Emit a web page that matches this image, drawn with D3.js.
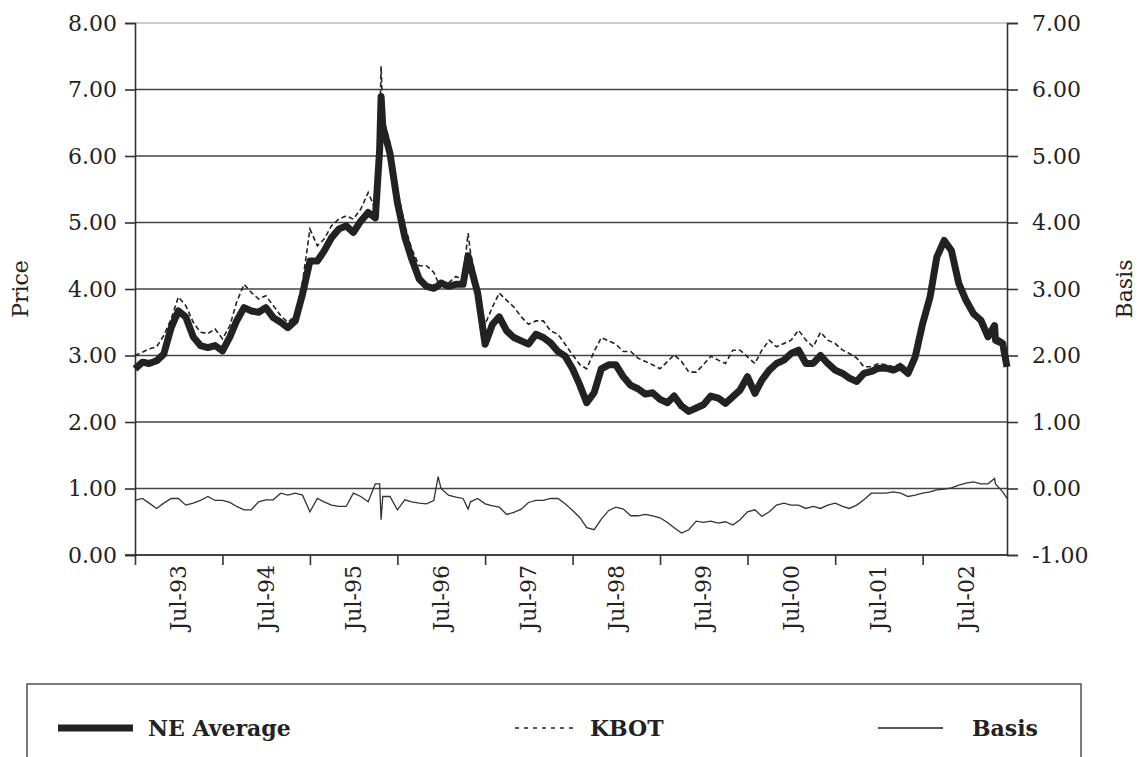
<!DOCTYPE html>
<html>
<head>
<meta charset="utf-8">
<script src="https://cdnjs.cloudflare.com/ajax/libs/d3/7.8.5/d3.min.js"></script>
<style>
    body { margin: 0; background: #fff; }
    svg text { font-family: "DejaVu Serif", "Liberation Serif", serif; fill: #222; }
</style>
</head>
<body>
<div id="chart"></div>
<script>
// ---- data (first of month, plus a few extra points) ----
const dates = [
    '1993-01-01','1993-02-01','1993-03-01','1993-04-01','1993-05-01','1993-06-01',
    '1993-07-01','1993-08-01','1993-09-01','1993-10-01','1993-11-01','1993-12-01',
    '1994-01-01','1994-02-01','1994-03-01','1994-04-01','1994-05-01','1994-06-01',
    '1994-07-01','1994-08-01','1994-09-01','1994-10-01','1994-11-01','1994-12-01',
    '1995-01-01','1995-02-01','1995-03-01','1995-04-01','1995-05-01','1995-06-01',
    '1995-07-01','1995-08-01','1995-09-01','1995-10-01','1995-10-19','1995-10-25',
    '1995-11-01','1995-12-01','1996-01-01','1996-02-01','1996-03-01','1996-04-01',
    '1996-05-01','1996-06-01','1996-06-19','1996-07-01','1996-08-01','1996-09-01',
    '1996-10-01','1996-10-22','1996-11-01','1996-12-01',
    '1997-01-01','1997-02-01','1997-03-01','1997-04-01','1997-05-01','1997-06-01',
    '1997-07-01','1997-08-01','1997-09-01','1997-10-01','1997-11-01','1997-12-01',
    '1998-01-01','1998-02-01','1998-03-01','1998-04-01','1998-05-01','1998-06-01',
    '1998-07-01','1998-08-01','1998-09-01','1998-10-01','1998-11-01','1998-12-01',
    '1999-01-01','1999-02-01','1999-03-01','1999-04-01','1999-05-01','1999-06-01',
    '1999-07-01','1999-08-01','1999-09-01','1999-10-01','1999-11-01','1999-12-01',
    '2000-01-01','2000-02-01','2000-03-01','2000-04-01','2000-05-01','2000-06-01',
    '2000-07-01','2000-08-01','2000-09-01','2000-10-01','2000-11-01','2000-12-01',
    '2001-01-01','2001-02-01','2001-03-01','2001-04-01','2001-05-01','2001-06-01',
    '2001-07-01','2001-08-01','2001-09-01','2001-10-01','2001-11-01','2001-12-01',
    '2002-01-01','2002-02-01','2002-03-01','2002-04-01','2002-05-01','2002-06-01',
    '2002-07-01','2002-08-01','2002-09-01','2002-10-01','2002-10-28','2002-11-01',
    '2002-12-01','2002-12-19'
];

const neAverage = [
    2.80,2.90,2.88,2.92,3.02,3.42, 3.67,3.58,3.28,3.15,3.12,3.15,
    3.07,3.28,3.52,3.72,3.67,3.65, 3.72,3.57,3.50,3.42,3.52,3.92,
    4.42,4.42,4.57,4.77,4.90,4.95, 4.85,5.02,5.15,5.07,6.10,6.89,
    6.45,6.04,5.30,4.78,4.45,4.15, 4.04,4.01,4.05,4.09,4.04,4.07,
    4.07,4.50,4.35,3.94,
    3.17,3.47,3.58,3.37,3.27,3.22, 3.17,3.32,3.27,3.19,3.06,2.99,
    2.80,2.55,2.29,2.44,2.80,2.86, 2.86,2.68,2.55,2.50,2.42,2.44,
    2.34,2.29,2.39,2.24,2.16,2.21, 2.26,2.39,2.36,2.28,2.38,2.48,
    2.68,2.43,2.63,2.78,2.88,2.93, 3.03,3.08,2.88,2.88,3.00,2.88,
    2.78,2.73,2.66,2.61,2.73,2.76, 2.81,2.81,2.78,2.83,2.73,2.98,
    3.48,3.88,4.48,4.73,4.58,4.08, 3.83,3.63,3.53,3.28,3.45,3.23,
    3.18,2.83
];

const kbot = [
    3.00,3.05,3.10,3.13,3.30,3.55, 3.88,3.75,3.50,3.35,3.33,3.40,
    3.25,3.45,3.80,4.07,3.95,3.85, 3.90,3.75,3.60,3.50,3.60,4.10,
    4.90,4.65,4.75,4.95,5.05,5.10, 5.05,5.20,5.45,5.20,6.40,7.35,
    6.60,6.20,5.50,4.95,4.60,4.35, 4.35,4.25,4.10,4.09,4.09,4.19,
    4.14,4.84,4.55,4.04,
    3.47,3.73,3.94,3.83,3.73,3.58, 3.47,3.52,3.52,3.37,3.32,3.17,
    3.01,2.86,2.80,3.06,3.27,3.22, 3.17,3.06,3.06,2.96,2.91,2.86,
    2.80,2.91,3.01,2.91,2.75,2.75, 2.86,2.99,2.93,2.88,3.08,3.08,
    2.98,2.88,3.08,3.23,3.13,3.18, 3.23,3.38,3.23,3.13,3.35,3.23,
    3.18,3.08,3.03,2.96,2.83,2.83, 2.88,2.86,2.83,2.88,2.78,3.00,
    3.50,3.90,4.50,4.76,4.60,4.10, 3.85,3.65,3.55,3.33,3.35,3.30,
    3.23,3.00
];

const basis = [
    -0.18,-0.15,-0.22,-0.30,-0.22,-0.15, -0.15,-0.25,-0.22,-0.18,-0.12,-0.18,
    -0.18,-0.21,-0.27,-0.32,-0.32,-0.20, -0.17,-0.17,-0.07,-0.10,-0.07,-0.10,
    -0.35,-0.15,-0.20,-0.25,-0.27,-0.27, -0.07,-0.12,-0.20,0.07,0.07,-0.47,
    -0.12,-0.12,-0.32,-0.17,-0.20,-0.22, -0.23,-0.18,0.18,0.00,-0.10,-0.13,
    -0.15,-0.31,-0.20,-0.15,
    -0.23,-0.26,-0.28,-0.39,-0.36,-0.31, -0.21,-0.18,-0.18,-0.15,-0.15,-0.23,
    -0.33,-0.44,-0.59,-0.62,-0.46,-0.33, -0.28,-0.31,-0.41,-0.41,-0.39,-0.41,
    -0.44,-0.51,-0.59,-0.67,-0.62,-0.49, -0.51,-0.49,-0.52,-0.50,-0.55,-0.47,
    -0.35,-0.32,-0.42,-0.35,-0.25,-0.22, -0.25,-0.25,-0.30,-0.27,-0.30,-0.25,
    -0.22,-0.27,-0.30,-0.25,-0.17,-0.07, -0.07,-0.07,-0.05,-0.07,-0.12,-0.10,
    -0.07,-0.05,-0.02,-0.01,0.01,0.05, 0.08,0.10,0.07,0.07,0.15,0.07,
    -0.05,-0.15
];

const priceTicks = [0, 1, 2, 3, 4, 5, 6, 7, 8];
const basisTicks = [-1, 0, 1, 2, 3, 4, 5, 6, 7];
const yearTicks = ['1993','1994','1995','1996','1997','1998','1999','2000','2001','2002'];
const monthLabels = ['Jul-93','Jul-94','Jul-95','Jul-96','Jul-97','Jul-98','Jul-99','Jul-00','Jul-01','Jul-02'];

const seriesNames = ['NE Average', 'KBOT', 'Basis'];

class Chart {

    constructor(opts) {
        this.element = opts.element;
        const parse = d3.timeParse('%Y-%m-%d');
        this.data = dates.map((d, i) => ({
            date: parse(d), ne: neAverage[i], kbot: kbot[i], basis: basis[i]
        }));
        this.draw();
    }

    draw() {
        this.width = 1141;
        this.height = 757;
        this.margin = { top: 23, right: 134, bottom: 202, left: 135 };

        this.element.innerHTML = '';
        this.svg = d3.select(this.element).append('svg')
            .attr('width', this.width)
            .attr('height', this.height);

        this.createScales();
        this.addGrid();
        this.addAxes();
        this.addLines();
        this.addLegend();
    }

    createScales() {
        const m = this.margin;
        this.x0 = m.left;
        this.x1 = this.width - m.right;
        this.y0 = this.height - m.bottom;

        this.xScale = d3.scaleTime()
            .domain([new Date(1993, 0, 1), new Date(2002, 11, 19)])
            .range([this.x0, this.x1]);

        this.yScale = d3.scaleLinear()
            .domain([0, 8])
            .range([this.y0, m.top]);

        this.y2Scale = d3.scaleLinear()
            .domain([-1, 7])
            .range([this.y0, m.top]);
    }

    addGrid() {
        // horizontal rules across the plot, top one lighter
        this.svg.append('g')
            .selectAll('line')
            .data(priceTicks)
            .join('line')
            .attr('x1', this.x0)
            .attr('x2', this.x1)
            .attr('y1', d => this.yScale(d))
            .attr('y2', d => this.yScale(d))
            .attr('stroke', d => d === 8 ? '#bdbdbd' : '#444')
            .attr('stroke-width', 1.6);
    }

    addAxes() {
        // plain hyphen for negatives, like the original
        const fmt = d => d3.format('.2f')(d).replace('\u2212', '-');

        const yAxis = d3.axisLeft(this.yScale)
            .tickValues(priceTicks)
            .tickFormat(fmt)
            .tickSize(10)
            .tickPadding(8);

        const y2Axis = d3.axisRight(this.y2Scale)
            .tickValues(basisTicks)
            .tickFormat(fmt)
            .tickSize(11)
            .tickPadding(14);

        const xAxis = d3.axisBottom(this.xScale)
            .tickValues(yearTicks.map(y => new Date(+y, 0, 1)))
            .tickFormat('')
            .tickSize(10);

        const gl = this.svg.append('g')
            .attr('transform', `translate(${this.x0},0)`)
            .call(yAxis);
        const gr = this.svg.append('g')
            .attr('transform', `translate(${this.x1},0)`)
            .call(y2Axis);
        const gx = this.svg.append('g')
            .attr('transform', `translate(0,${this.y0})`)
            .call(xAxis);

        [gl, gr, gx].forEach(g => {
            g.select('.domain').attr('stroke', '#333').attr('stroke-width', 1.6);
            g.selectAll('.tick line').attr('stroke', '#333').attr('stroke-width', 1.6);
            g.selectAll('.tick text')
                .style('font-family', '"DejaVu Serif", serif')
                .style('font-size', '22px')
                .attr('fill', '#222');
        });
        gx.select('.domain').attr('d', `M${this.x0 - 10},0H${this.x1}`);

        // rotated month labels halfway between year ticks
        this.svg.append('g')
            .selectAll('text')
            .data(monthLabels)
            .join('text')
            .attr('transform', (d, i) =>
                `translate(${this.xScale(new Date(1993 + i, 6, 1))},${this.y0 + 10}) rotate(-90)`)
            .attr('text-anchor', 'end')
            .attr('dy', '0.36em')
            .style('font-size', '22px')
            .text(d => d);

        // axis titles
        const midY = (this.yScale(0) + this.yScale(8)) / 2;
        this.svg.append('text')
            .attr('transform', `translate(20,${midY}) rotate(-90)`)
            .attr('text-anchor', 'middle')
            .attr('dy', '0.36em')
            .style('font-size', '22px')
            .text('Price');
        this.svg.append('text')
            .attr('transform', `translate(1124,${midY}) rotate(-90)`)
            .attr('text-anchor', 'middle')
            .attr('dy', '0.36em')
            .style('font-size', '22px')
            .text('Basis');
    }

    addLines() {
        const plot = this.svg.append('g');

        const kbotLine = d3.line()
            .x(d => this.xScale(d.date))
            .y(d => this.yScale(d.kbot));
        const neLine = d3.line()
            .x(d => this.xScale(d.date))
            .y(d => this.yScale(d.ne));
        const basisLine = d3.line()
            .x(d => this.xScale(d.date))
            .y(d => this.y2Scale(d.basis));

        plot.append('path')
            .datum(this.data)
            .attr('d', kbotLine)
            .attr('fill', 'none')
            .attr('stroke', '#222')
            .attr('stroke-width', 1.6)
            .attr('stroke-dasharray', '5,3');

        plot.append('path')
            .datum(this.data)
            .attr('d', neLine)
            .attr('fill', 'none')
            .attr('stroke', '#222')
            .attr('stroke-width', 7)
            .attr('stroke-linejoin', 'round');

        plot.append('path')
            .datum(this.data)
            .attr('d', basisLine)
            .attr('fill', 'none')
            .attr('stroke', '#333')
            .attr('stroke-width', 1.3);
    }

    addLegend() {
        const g = this.svg.append('g');

        g.append('rect')
            .attr('x', 27)
            .attr('y', 684)
            .attr('width', 1054)
            .attr('height', 100)
            .attr('fill', 'none')
            .attr('stroke', '#444')
            .attr('stroke-width', 1.4);

        const items = [
            { name: seriesNames[0], x1: 58, x2: 133, tx: 148, width: 7, dash: null },
            { name: seriesNames[1], x1: 515, x2: 575, tx: 590, width: 1.6, dash: '4,5' },
            { name: seriesNames[2], x1: 878, x2: 943, tx: 972, width: 1.4, dash: null }
        ];

        const ly = 728;
        items.forEach(it => {
            g.append('line')
                .attr('x1', it.x1)
                .attr('x2', it.x2)
                .attr('y1', ly)
                .attr('y2', ly)
                .attr('stroke', '#222')
                .attr('stroke-width', it.width)
                .attr('stroke-dasharray', it.dash);
            g.append('text')
                .attr('x', it.tx)
                .attr('y', ly)
                .attr('dy', '0.36em')
                .style('font-size', '22px')
                .style('font-weight', 'bold')
                .text(it.name);
        });
    }
}

new Chart({ element: document.getElementById('chart') });
</script>
</body>
</html>
